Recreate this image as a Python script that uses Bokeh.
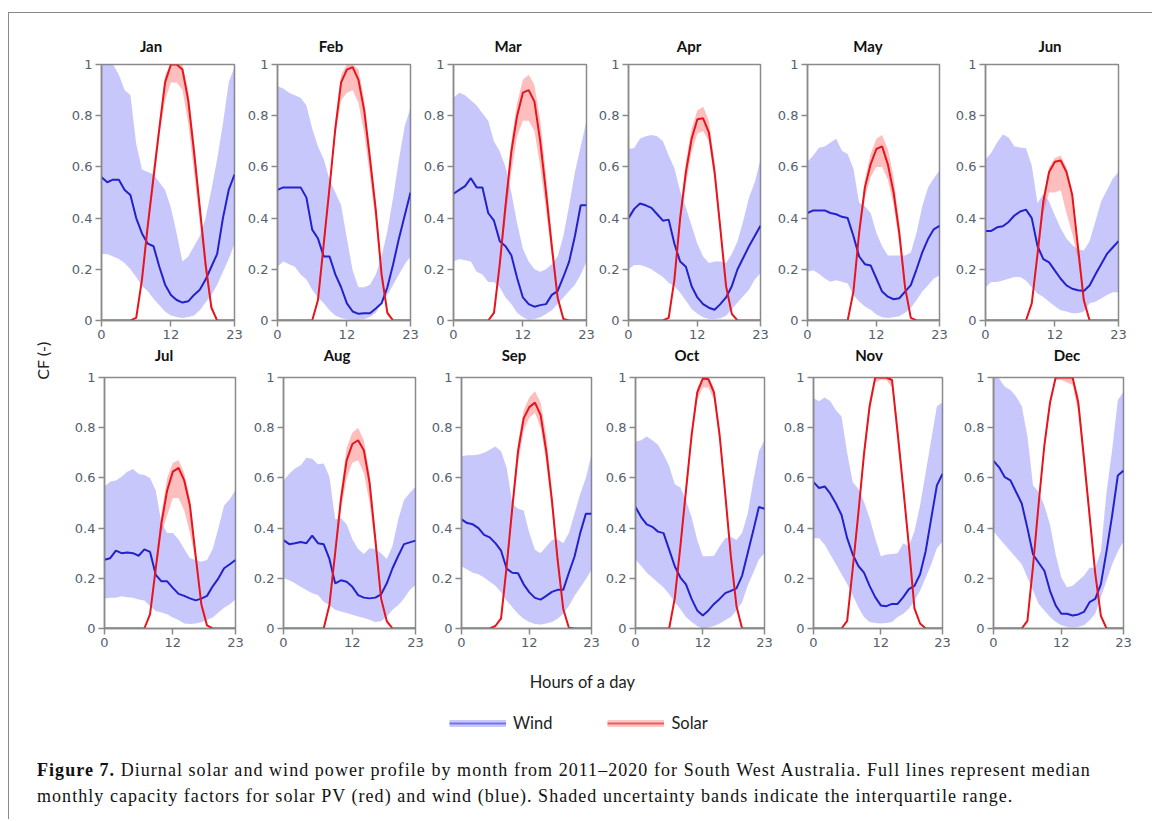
import math
from bokeh.plotting import figure
from bokeh.models import Range1d, FixedTicker, Label, Legend, LegendItem, Div
from bokeh.layouts import row, column
from bokeh.embed import file_html
from bokeh.resources import INLINE

# ---------------- data ----------------
MONTHS = ["Jan", "Feb", "Mar", "Apr", "May", "Jun",
          "Jul", "Aug", "Sep", "Oct", "Nov", "Dec"]
HOURS = list(range(24))
X_TICKS = [0, 12, 23]
X_TICK_LABELS = ["0", "12", "23"]
Y_TICKS = [0, 0.2, 0.4, 0.6, 0.8, 1]
Y_TICK_LABELS = ["0", "0.2", "0.4", "0.6", "0.8", "1"]
SERIES = ["Wind", "Solar"]
Y_LABEL = "CF (-)"
X_LABEL = "Hours of a day"

WIND_MEDIAN = [
    [0.56, 0.54, 0.55, 0.55, 0.51, 0.49, 0.40, 0.34, 0.30, 0.29, 0.21, 0.14, 0.10, 0.08, 0.07, 0.075, 0.10, 0.12, 0.16, 0.21, 0.26, 0.40, 0.51, 0.57],
    [0.51, 0.52, 0.52, 0.52, 0.52, 0.48, 0.355, 0.32, 0.25, 0.25, 0.18, 0.13, 0.067, 0.035, 0.026, 0.028, 0.028, 0.047, 0.067, 0.13, 0.22, 0.32, 0.41, 0.50],
    [0.495, 0.51, 0.525, 0.556, 0.52, 0.52, 0.42, 0.39, 0.31, 0.29, 0.255, 0.166, 0.09, 0.064, 0.054, 0.06, 0.064, 0.10, 0.115, 0.17, 0.23, 0.33, 0.45, 0.45],
    [0.40, 0.436, 0.457, 0.45, 0.44, 0.415, 0.39, 0.394, 0.30, 0.23, 0.21, 0.134, 0.09, 0.064, 0.05, 0.042, 0.064, 0.09, 0.134, 0.20, 0.245, 0.29, 0.33, 0.37],
    [0.42, 0.43, 0.43, 0.43, 0.42, 0.415, 0.405, 0.40, 0.33, 0.25, 0.22, 0.215, 0.164, 0.113, 0.093, 0.083, 0.087, 0.113, 0.138, 0.20, 0.266, 0.318, 0.356, 0.37],
    [0.35, 0.35, 0.364, 0.368, 0.385, 0.41, 0.426, 0.433, 0.40, 0.29, 0.24, 0.227, 0.195, 0.163, 0.137, 0.124, 0.118, 0.115, 0.137, 0.18, 0.22, 0.26, 0.285, 0.31],
    [0.274, 0.28, 0.31, 0.30, 0.303, 0.30, 0.29, 0.315, 0.305, 0.214, 0.188, 0.188, 0.162, 0.138, 0.13, 0.12, 0.112, 0.119, 0.13, 0.168, 0.20, 0.24, 0.256, 0.273],
    [0.352, 0.336, 0.34, 0.345, 0.34, 0.37, 0.34, 0.336, 0.277, 0.18, 0.192, 0.186, 0.166, 0.133, 0.123, 0.12, 0.123, 0.136, 0.18, 0.24, 0.29, 0.336, 0.343, 0.35],
    [0.435, 0.42, 0.415, 0.40, 0.373, 0.363, 0.34, 0.31, 0.238, 0.222, 0.22, 0.176, 0.144, 0.122, 0.115, 0.13, 0.146, 0.154, 0.154, 0.222, 0.287, 0.38, 0.457, 0.457],
    [0.484, 0.444, 0.415, 0.405, 0.386, 0.38, 0.314, 0.248, 0.203, 0.176, 0.118, 0.072, 0.052, 0.072, 0.098, 0.118, 0.141, 0.15, 0.16, 0.21, 0.30, 0.39, 0.484, 0.477],
    [0.583, 0.56, 0.566, 0.537, 0.498, 0.452, 0.36, 0.295, 0.249, 0.223, 0.17, 0.125, 0.092, 0.089, 0.098, 0.098, 0.125, 0.157, 0.17, 0.216, 0.308, 0.44, 0.57, 0.616],
    [0.668, 0.642, 0.603, 0.59, 0.544, 0.498, 0.40, 0.295, 0.262, 0.23, 0.15, 0.092, 0.059, 0.059, 0.052, 0.056, 0.066, 0.105, 0.118, 0.177, 0.308, 0.452, 0.61, 0.629],
]
WIND_Q75 = [
    [1.0, 1.0, 1.0, 0.96, 0.90, 0.88, 0.69, 0.59, 0.58, 0.57, 0.54, 0.51, 0.44, 0.34, 0.23, 0.25, 0.29, 0.33, 0.40, 0.51, 0.63, 0.77, 0.93, 0.99],
    [0.915, 0.906, 0.89, 0.88, 0.87, 0.84, 0.75, 0.68, 0.63, 0.55, 0.50, 0.45, 0.32, 0.195, 0.13, 0.13, 0.14, 0.18, 0.25, 0.35, 0.48, 0.63, 0.76, 0.83],
    [0.87, 0.89, 0.88, 0.86, 0.84, 0.81, 0.78, 0.70, 0.66, 0.60, 0.50, 0.38, 0.28, 0.23, 0.20, 0.19, 0.20, 0.22, 0.25, 0.33, 0.45, 0.58, 0.68, 0.78],
    [0.67, 0.674, 0.71, 0.72, 0.725, 0.72, 0.70, 0.645, 0.595, 0.505, 0.44, 0.37, 0.30, 0.25, 0.225, 0.23, 0.23, 0.225, 0.26, 0.31, 0.39, 0.48, 0.54, 0.63],
    [0.62, 0.645, 0.675, 0.68, 0.695, 0.71, 0.663, 0.65, 0.593, 0.46, 0.446, 0.42, 0.343, 0.29, 0.254, 0.254, 0.254, 0.254, 0.266, 0.343, 0.446, 0.52, 0.555, 0.586],
    [0.63, 0.655, 0.695, 0.727, 0.715, 0.68, 0.676, 0.673, 0.605, 0.458, 0.495, 0.465, 0.41, 0.36, 0.32, 0.295, 0.277, 0.273, 0.31, 0.387, 0.465, 0.51, 0.554, 0.58],
    [0.567, 0.585, 0.59, 0.605, 0.625, 0.635, 0.616, 0.612, 0.60, 0.55, 0.42, 0.38, 0.38, 0.355, 0.317, 0.28, 0.273, 0.266, 0.273, 0.317, 0.40, 0.49, 0.515, 0.553],
    [0.59, 0.617, 0.637, 0.65, 0.68, 0.676, 0.654, 0.657, 0.605, 0.435, 0.44, 0.415, 0.356, 0.317, 0.297, 0.32, 0.317, 0.30, 0.277, 0.33, 0.435, 0.513, 0.54, 0.565],
    [0.686, 0.69, 0.69, 0.693, 0.70, 0.712, 0.725, 0.706, 0.64, 0.497, 0.477, 0.47, 0.38, 0.314, 0.30, 0.327, 0.353, 0.356, 0.34, 0.38, 0.457, 0.536, 0.60, 0.693],
    [0.745, 0.75, 0.765, 0.75, 0.732, 0.693, 0.647, 0.575, 0.562, 0.51, 0.444, 0.353, 0.288, 0.288, 0.29, 0.327, 0.36, 0.366, 0.353, 0.38, 0.457, 0.588, 0.706, 0.75],
    [0.917, 0.905, 0.92, 0.905, 0.87, 0.845, 0.70, 0.583, 0.557, 0.505, 0.44, 0.36, 0.288, 0.295, 0.297, 0.30, 0.34, 0.328, 0.387, 0.49, 0.622, 0.753, 0.885, 0.90],
    [1.0, 0.996, 0.963, 0.95, 0.924, 0.885, 0.767, 0.57, 0.544, 0.49, 0.413, 0.295, 0.203, 0.164, 0.17, 0.19, 0.21, 0.242, 0.242, 0.308, 0.544, 0.714, 0.91, 0.943],
]
WIND_Q25 = [
    [0.26, 0.26, 0.25, 0.24, 0.225, 0.20, 0.17, 0.135, 0.115, 0.085, 0.06, 0.035, 0.02, 0.014, 0.01, 0.014, 0.02, 0.04, 0.07, 0.10, 0.14, 0.19, 0.24, 0.30],
    [0.21, 0.23, 0.22, 0.21, 0.18, 0.16, 0.12, 0.09, 0.067, 0.04, 0.02, 0.01, 0.005, 0.003, 0.003, 0.005, 0.015, 0.03, 0.07, 0.10, 0.14, 0.18, 0.22, 0.25],
    [0.23, 0.24, 0.235, 0.23, 0.19, 0.18, 0.15, 0.15, 0.13, 0.09, 0.064, 0.03, 0.013, 0.003, 0.006, 0.013, 0.025, 0.04, 0.064, 0.09, 0.115, 0.14, 0.18, 0.23],
    [0.20, 0.217, 0.217, 0.21, 0.20, 0.185, 0.17, 0.147, 0.134, 0.109, 0.077, 0.045, 0.026, 0.013, 0.006, 0.006, 0.009, 0.019, 0.045, 0.07, 0.096, 0.12, 0.16, 0.185],
    [0.19, 0.196, 0.183, 0.164, 0.151, 0.157, 0.151, 0.145, 0.10, 0.074, 0.055, 0.042, 0.023, 0.013, 0.01, 0.013, 0.017, 0.03, 0.049, 0.08, 0.113, 0.138, 0.164, 0.177],
    [0.13, 0.15, 0.15, 0.156, 0.163, 0.17, 0.17, 0.156, 0.13, 0.105, 0.092, 0.073, 0.056, 0.04, 0.035, 0.028, 0.028, 0.035, 0.067, 0.073, 0.086, 0.10, 0.11, 0.11],
    [0.12, 0.123, 0.123, 0.128, 0.125, 0.123, 0.116, 0.112, 0.09, 0.07, 0.064, 0.057, 0.044, 0.034, 0.02, 0.018, 0.02, 0.025, 0.034, 0.044, 0.064, 0.083, 0.097, 0.116],
    [0.20, 0.192, 0.18, 0.166, 0.153, 0.14, 0.133, 0.107, 0.094, 0.075, 0.068, 0.062, 0.055, 0.048, 0.042, 0.035, 0.026, 0.029, 0.048, 0.075, 0.094, 0.12, 0.153, 0.173],
    [0.248, 0.235, 0.222, 0.216, 0.203, 0.186, 0.17, 0.144, 0.111, 0.085, 0.059, 0.039, 0.026, 0.018, 0.016, 0.02, 0.026, 0.039, 0.059, 0.09, 0.13, 0.163, 0.196, 0.235],
    [0.275, 0.25, 0.222, 0.203, 0.183, 0.163, 0.137, 0.105, 0.078, 0.046, 0.026, 0.01, 0.0, 0.004, 0.01, 0.02, 0.033, 0.046, 0.072, 0.105, 0.17, 0.222, 0.275, 0.30],
    [0.36, 0.36, 0.334, 0.295, 0.256, 0.216, 0.177, 0.131, 0.085, 0.046, 0.026, 0.022, 0.02, 0.022, 0.026, 0.046, 0.059, 0.079, 0.111, 0.15, 0.203, 0.256, 0.32, 0.347],
    [0.387, 0.36, 0.334, 0.308, 0.282, 0.256, 0.203, 0.15, 0.098, 0.072, 0.046, 0.026, 0.013, 0.007, 0.004, 0.007, 0.013, 0.033, 0.059, 0.125, 0.19, 0.256, 0.308, 0.347],
]
SOLAR_MEDIAN = [
    [0, 0, 0, 0, 0, 0, 0.01, 0.16, 0.37, 0.56, 0.75, 0.93, 1.0, 1.0, 0.98, 0.86, 0.66, 0.44, 0.22, 0.05, 0, 0, 0, 0],
    [0, 0, 0, 0, 0, 0, 0, 0.08, 0.30, 0.52, 0.75, 0.93, 0.98, 0.99, 0.94, 0.82, 0.63, 0.43, 0.18, 0.03, 0, 0, 0, 0],
    [0, 0, 0, 0, 0, 0, 0, 0.03, 0.22, 0.45, 0.66, 0.80, 0.89, 0.90, 0.855, 0.70, 0.50, 0.29, 0.09, 0.006, 0, 0, 0, 0],
    [0, 0, 0, 0, 0, 0, 0, 0.01, 0.16, 0.40, 0.58, 0.71, 0.786, 0.79, 0.735, 0.58, 0.36, 0.134, 0.026, 0, 0, 0, 0, 0],
    [0, 0, 0, 0, 0, 0, 0, 0, 0.113, 0.343, 0.52, 0.61, 0.67, 0.68, 0.61, 0.50, 0.34, 0.13, 0.01, 0, 0, 0, 0, 0],
    [0, 0, 0, 0, 0, 0, 0, 0, 0.067, 0.26, 0.465, 0.58, 0.62, 0.625, 0.58, 0.49, 0.285, 0.08, 0, 0, 0, 0, 0, 0],
    [0, 0, 0, 0, 0, 0, 0, 0, 0.057, 0.24, 0.42, 0.55, 0.625, 0.64, 0.59, 0.49, 0.29, 0.097, 0.012, 0, 0, 0, 0, 0],
    [0, 0, 0, 0, 0, 0, 0, 0, 0.094, 0.30, 0.513, 0.67, 0.735, 0.75, 0.71, 0.58, 0.356, 0.12, 0.029, 0, 0, 0, 0, 0],
    [0, 0, 0, 0, 0, 0, 0.01, 0.04, 0.25, 0.484, 0.706, 0.837, 0.882, 0.90, 0.85, 0.706, 0.51, 0.275, 0.078, 0.003, 0, 0, 0, 0],
    [0, 0, 0, 0, 0, 0, 0, 0.12, 0.327, 0.55, 0.77, 0.94, 0.996, 0.993, 0.94, 0.77, 0.536, 0.288, 0.09, 0, 0, 0, 0, 0],
    [0, 0, 0, 0, 0, 0, 0.03, 0.24, 0.46, 0.695, 0.885, 1.0, 1.0, 1.0, 0.99, 0.78, 0.56, 0.33, 0.08, 0.02, 0, 0, 0, 0],
    [0, 0, 0, 0, 0, 0, 0.03, 0.25, 0.50, 0.73, 0.90, 1.0, 1.0, 1.0, 1.0, 0.90, 0.68, 0.45, 0.22, 0.05, 0, 0, 0, 0],
]
SOLAR_Q25 = [
    [0, 0, 0, 0, 0, 0, 0.01, 0.15, 0.35, 0.53, 0.72, 0.86, 0.93, 0.93, 0.90, 0.77, 0.58, 0.38, 0.18, 0.04, 0, 0, 0, 0],
    [0, 0, 0, 0, 0, 0, 0, 0.07, 0.29, 0.50, 0.72, 0.86, 0.89, 0.90, 0.85, 0.73, 0.56, 0.38, 0.15, 0.02, 0, 0, 0, 0],
    [0, 0, 0, 0, 0, 0, 0, 0.03, 0.20, 0.40, 0.58, 0.72, 0.78, 0.78, 0.74, 0.60, 0.43, 0.25, 0.08, 0.005, 0, 0, 0, 0],
    [0, 0, 0, 0, 0, 0, 0, 0.01, 0.15, 0.37, 0.53, 0.66, 0.73, 0.74, 0.70, 0.55, 0.33, 0.12, 0.02, 0, 0, 0, 0, 0],
    [0, 0, 0, 0, 0, 0, 0, 0, 0.10, 0.32, 0.48, 0.56, 0.60, 0.60, 0.55, 0.45, 0.30, 0.11, 0.01, 0, 0, 0, 0, 0],
    [0, 0, 0, 0, 0, 0, 0, 0, 0.06, 0.24, 0.42, 0.50, 0.50, 0.51, 0.42, 0.34, 0.24, 0.06, 0, 0, 0, 0, 0, 0],
    [0, 0, 0, 0, 0, 0, 0, 0, 0.05, 0.22, 0.38, 0.45, 0.52, 0.52, 0.47, 0.38, 0.27, 0.08, 0.01, 0, 0, 0, 0, 0],
    [0, 0, 0, 0, 0, 0, 0, 0, 0.085, 0.28, 0.47, 0.60, 0.66, 0.67, 0.62, 0.50, 0.32, 0.10, 0.02, 0, 0, 0, 0, 0],
    [0, 0, 0, 0, 0, 0, 0.01, 0.035, 0.23, 0.45, 0.66, 0.79, 0.84, 0.86, 0.80, 0.66, 0.47, 0.25, 0.07, 0.002, 0, 0, 0, 0],
    [0, 0, 0, 0, 0, 0, 0, 0.11, 0.31, 0.52, 0.74, 0.91, 0.96, 0.96, 0.91, 0.74, 0.51, 0.27, 0.08, 0, 0, 0, 0, 0],
    [0, 0, 0, 0, 0, 0, 0.025, 0.22, 0.44, 0.67, 0.86, 0.98, 0.99, 0.99, 0.96, 0.74, 0.53, 0.31, 0.07, 0.015, 0, 0, 0, 0],
    [0, 0, 0, 0, 0, 0, 0.025, 0.23, 0.48, 0.71, 0.88, 0.99, 0.99, 0.98, 0.97, 0.86, 0.64, 0.42, 0.20, 0.04, 0, 0, 0, 0],
]
SOLAR_Q75 = [
    [0, 0, 0, 0, 0, 0, 0.015, 0.18, 0.40, 0.60, 0.78, 0.96, 1.0, 1.0, 1.0, 0.90, 0.70, 0.47, 0.24, 0.07, 0, 0, 0, 0],
    [0, 0, 0, 0, 0, 0, 0, 0.09, 0.32, 0.54, 0.78, 0.96, 1.0, 1.0, 0.98, 0.86, 0.67, 0.46, 0.20, 0.04, 0, 0, 0, 0],
    [0, 0, 0, 0, 0, 0, 0, 0.04, 0.24, 0.48, 0.70, 0.85, 0.94, 0.96, 0.92, 0.78, 0.57, 0.33, 0.11, 0.01, 0, 0, 0, 0],
    [0, 0, 0, 0, 0, 0, 0, 0.012, 0.17, 0.42, 0.62, 0.75, 0.82, 0.835, 0.78, 0.62, 0.39, 0.15, 0.03, 0, 0, 0, 0, 0],
    [0, 0, 0, 0, 0, 0, 0, 0, 0.12, 0.36, 0.55, 0.65, 0.71, 0.725, 0.67, 0.56, 0.38, 0.14, 0.015, 0, 0, 0, 0, 0],
    [0, 0, 0, 0, 0, 0, 0, 0, 0.07, 0.27, 0.48, 0.60, 0.635, 0.645, 0.60, 0.51, 0.30, 0.09, 0, 0, 0, 0, 0, 0],
    [0, 0, 0, 0, 0, 0, 0, 0, 0.06, 0.26, 0.46, 0.60, 0.66, 0.67, 0.62, 0.52, 0.31, 0.11, 0.015, 0, 0, 0, 0, 0],
    [0, 0, 0, 0, 0, 0, 0, 0, 0.10, 0.32, 0.55, 0.72, 0.78, 0.80, 0.75, 0.62, 0.38, 0.13, 0.035, 0, 0, 0, 0, 0],
    [0, 0, 0, 0, 0, 0, 0.012, 0.045, 0.27, 0.51, 0.74, 0.87, 0.92, 0.945, 0.90, 0.77, 0.55, 0.30, 0.09, 0.005, 0, 0, 0, 0],
    [0, 0, 0, 0, 0, 0, 0, 0.13, 0.34, 0.57, 0.79, 0.96, 1.0, 1.0, 0.96, 0.79, 0.55, 0.30, 0.10, 0, 0, 0, 0, 0],
    [0, 0, 0, 0, 0, 0, 0.035, 0.26, 0.48, 0.72, 0.91, 1.0, 1.0, 1.0, 1.0, 0.81, 0.58, 0.35, 0.09, 0.025, 0, 0, 0, 0],
    [0, 0, 0, 0, 0, 0, 0.035, 0.27, 0.52, 0.75, 0.92, 1.0, 1.0, 1.0, 1.0, 0.93, 0.71, 0.47, 0.24, 0.06, 0, 0, 0, 0],
]

CAPTION_BOLD = "Figure 7."
CAPTION_LINE1 = (" Diurnal solar and wind power profile by month from 2011\u20132020 for "
                 "South West Australia. Full lines represent median")
CAPTION_LINE2 = ("monthly capacity factors for solar PV (red) and wind (blue). "
                 "Shaded uncertainty bands indicate the interquartile range.")

# ---------------- styles ----------------
WIND_LINE = "#2222cc"
WIND_BAND = "#6464f5"
SOLAR_LINE = "#e8141c"
SOLAR_BAND = "#ff4a4a"
BAND_ALPHA = 0.36
AXIS_COLOR = "#8a8a8a"
TICK_TEXT = "#55606e"

# page layout (pixel positions of each panel frame in the page)
OX, OY = 9, 13
STRIP_TOPS = [13, 347]          # title strips
ROW_TOPS = [54, 364]            # panel rows
ROW_BOTTOMS = [347, 660]
FRAME_L = [[101, 277, 453, 627, 807, 985], [104, 283, 460, 633, 811, 992]]
FRAME_R = [[234, 410, 586, 760, 939, 1118], [235, 415, 591, 764, 942, 1123]]
FRAME_T = [[61, 64, 62, 61, 62, 61], [373, 376, 375, 375, 377, 377]]
FRAME_B = [[322, 324, 323, 321, 323, 320], [628, 631, 630, 630, 632, 632]]
SPLITS = [[60, 243, 419, 595, 772, 950, 1130], [60, 250, 428, 602, 780, 960, 1140]]
TITLE_X = [[151, 331, 508, 689, 868, 1050], [164, 337, 514, 687, 869, 1067]]
TITLE_Y = [46, 355]


def make_panel(r, c):
    idx = r * 6 + c
    left = FRAME_L[r][c] - SPLITS[r][c]
    right = SPLITS[r][c + 1] - FRAME_R[r][c]
    top = FRAME_T[r][c] - ROW_TOPS[r]
    bottom = ROW_BOTTOMS[r] - FRAME_B[r][c]
    fw = FRAME_R[r][c] - FRAME_L[r][c]
    fh = FRAME_B[r][c] - FRAME_T[r][c]
    p = figure(width=left + fw + right, height=top + fh + bottom,
               x_range=Range1d(0, 23), y_range=Range1d(0, 1),
               min_border_left=left, min_border_right=right,
               min_border_top=top, min_border_bottom=bottom,
               toolbar_location=None, output_backend="svg")
    p.varea(x=HOURS, y1=WIND_Q25[idx], y2=WIND_Q75[idx],
            fill_color=WIND_BAND, fill_alpha=BAND_ALPHA)
    p.varea(x=HOURS, y1=SOLAR_Q25[idx], y2=SOLAR_Q75[idx],
            fill_color=SOLAR_BAND, fill_alpha=BAND_ALPHA)
    p.line(x=HOURS, y=WIND_MEDIAN[idx], line_color=WIND_LINE, line_width=2)
    p.line(x=HOURS, y=SOLAR_MEDIAN[idx], line_color=SOLAR_LINE, line_width=2)

    p.xaxis.ticker = FixedTicker(ticks=X_TICKS)
    p.xaxis.major_label_overrides = dict(zip(X_TICKS, X_TICK_LABELS))
    p.yaxis.ticker = FixedTicker(ticks=Y_TICKS)
    p.yaxis.major_label_overrides = dict(zip(Y_TICKS, Y_TICK_LABELS))
    for ax in (p.xaxis[0], p.yaxis[0]):
        ax.axis_line_color = AXIS_COLOR
        ax.axis_line_width = 1.5
        ax.major_tick_line_color = AXIS_COLOR
        ax.major_tick_line_width = 1.5
        ax.major_tick_in = 0
        ax.major_tick_out = 6
        ax.minor_tick_line_color = None
        ax.major_label_text_font = "DejaVu Sans"
        ax.major_label_text_font_size = "13px"
        ax.major_label_text_color = TICK_TEXT
        ax.major_label_standoff = 3
    p.xgrid.visible = False
    p.ygrid.visible = False
    p.outline_line_color = AXIS_COLOR
    p.outline_line_width = 1.5
    return p


def title_strip(r):
    h = ROW_TOPS[r] - STRIP_TOPS[r]
    cy = TITLE_Y[r] - STRIP_TOPS[r]
    parts = []
    for c in range(6):
        cx = TITLE_X[r][c] - SPLITS[r][0]
        parts.append(
            f'<div style="position:absolute;left:{cx - 40:.1f}px;width:80px;'
            f'top:{cy - 8}px;height:16px;line-height:16px;text-align:center;'
            f'font-family:Lato;font-weight:bold;font-size:15px;color:#111;">'
            f'{MONTHS[r * 6 + c]}</div>')
    html = (f'<div style="position:relative;width:1080px;height:{h}px;">'
            + "".join(parts) + '</div>')
    return Div(text=html, width=1080, height=h, margin=0)


panel_col = column(title_strip(0), row(*[make_panel(0, c) for c in range(6)]),
                   title_strip(1), row(*[make_panel(1, c) for c in range(6)]))

# left strip with the shared y label
lab_w = SPLITS[0][0] - OX
lab_h = ROW_BOTTOMS[1] - STRIP_TOPS[0]
lab = figure(width=lab_w, height=lab_h, x_range=Range1d(0, lab_w), y_range=Range1d(0, lab_h),
             min_border=0, x_axis_location=None, y_axis_location=None,
             toolbar_location=None, output_backend="svg")
lab.grid.visible = False
lab.outline_line_color = None
lab.add_layout(Label(x=42 - OX, y=ROW_BOTTOMS[1] - 360, text=Y_LABEL, angle=math.pi / 2,
                     text_align="center", text_baseline="middle",
                     text_font="Lato", text_font_size="16px", text_color="#222222"))

# bottom strip: x label and legend
bw, bh = 1131, 85
bot = figure(width=bw, height=bh, x_range=Range1d(0, bw), y_range=Range1d(0, bh),
             min_border=0, x_axis_location=None, y_axis_location=None,
             toolbar_location=None, output_backend="svg")
bot.grid.visible = False
bot.outline_line_color = None
bot.add_layout(Label(x=582 - OX, y=bh - (681 - ROW_BOTTOMS[1]), text=X_LABEL,
                     text_align="center", text_baseline="middle",
                     text_font="Lato", text_font_size="16.5px", text_color="#222222"))
NAN = [float("nan")]
wb = bot.line(x=NAN, y=NAN, line_color="#c8c8fa", line_width=7)
wl = bot.line(x=NAN, y=NAN, line_color="#7474f0", line_width=2)
sb = bot.line(x=NAN, y=NAN, line_color="#fbc8c8", line_width=7)
sl = bot.line(x=NAN, y=NAN, line_color="#ee5a5a", line_width=2)
legend = Legend(items=[LegendItem(label=SERIES[0], renderers=[wb, wl]),
                       LegendItem(label=SERIES[1], renderers=[sb, sl])],
                orientation="horizontal", location=(449 - OX, 12),
                glyph_width=57, glyph_height=14, label_height=20,
                label_standoff=7, spacing=55, padding=0, margin=0,
                border_line_color=None, background_fill_alpha=0,
                label_text_font="Lato", label_text_font_size="16.5px",
                label_text_color="#222222")
bot.add_layout(legend)

cap_w = 1143
cap = Div(text=('<div style="font-family:\'Liberation Serif\';font-size:18px;line-height:26px;'
                'color:#111;white-space:nowrap;letter-spacing:1.05px;padding-left:28px;padding-top:12px;">'
                '<b>' + CAPTION_BOLD + '</b>' + CAPTION_LINE1 + '<br>' + CAPTION_LINE2 + '</div>'),
          width=cap_w, height=74, margin=0)

page = column(row(lab, panel_col), bot, cap,
              styles={"border-left": "1.5px solid #8a8a8a", "border-top": "1.5px solid #8a8a8a",
                      "margin-left": "8px", "margin-top": "12px"})

open("out.html", "w").write(file_html(page, INLINE))
